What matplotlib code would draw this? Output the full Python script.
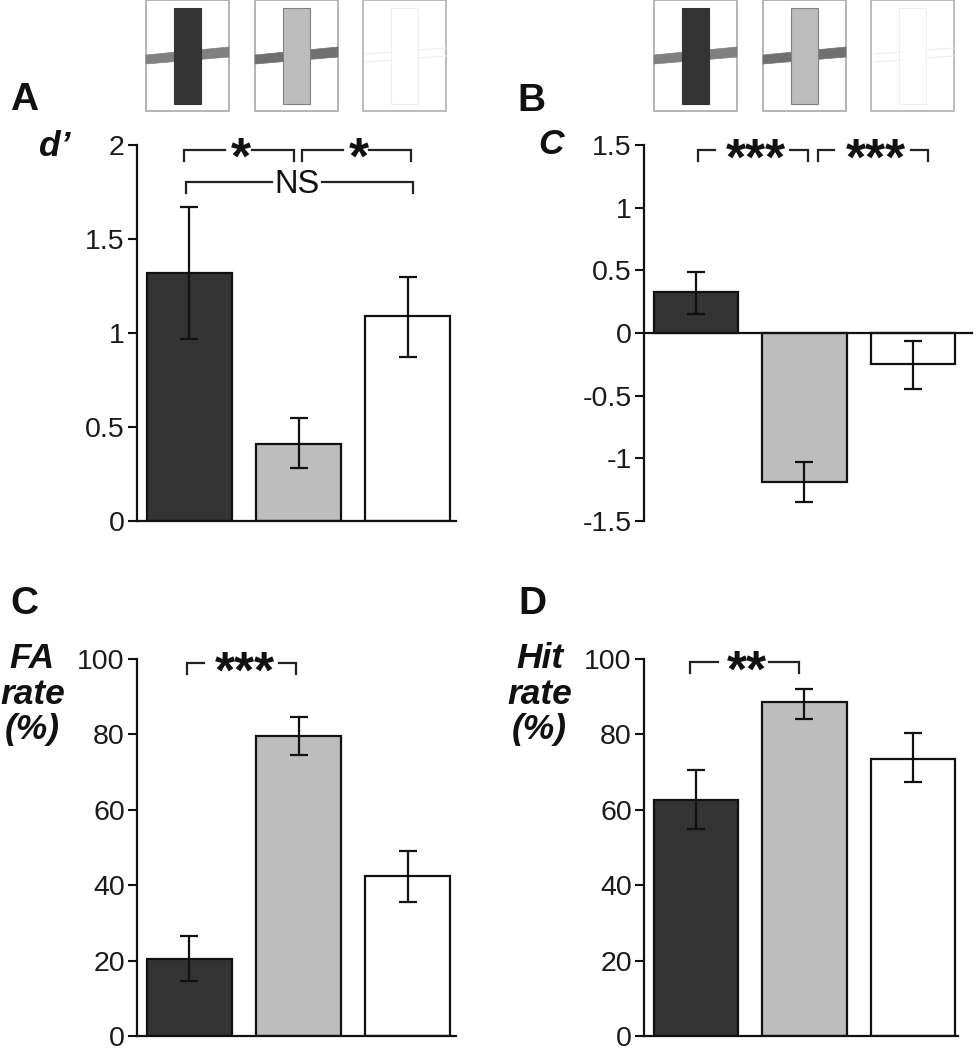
import matplotlib
matplotlib.use('Agg')
import matplotlib.pyplot as plt
from matplotlib.patches import Rectangle, Polygon

plt.rcParams['font.family'] = ['Liberation Sans', 'DejaVu Sans']

W = 979
H = 1050

bar_colors = ['#333333', '#bdbdbd', '#ffffff']

d_vals = [1.32, 0.41, 1.09]
d_low = [0.97, 0.28, 0.87]
d_high = [1.67, 0.55, 1.30]

c_vals = [0.33, -1.19, -0.25]
c_low = [0.15, -1.35, -0.45]
c_high = [0.49, -1.03, -0.06]

fa_vals = [20.5, 79.5, 42.5]
fa_low = [14.5, 74.5, 35.5]
fa_high = [26.5, 84.5, 49.0]

hit_vals = [62.5, 88.5, 73.5]
hit_low = [55.0, 84.0, 67.5]
hit_high = [70.5, 92.0, 80.5]

d_ticks = [0, 0.5, 1, 1.5, 2]
d_labels = ['0', '0.5', '1', '1.5', '2']
c_ticks = [-1.5, -1, -0.5, 0, 0.5, 1, 1.5]
c_labels = ['-1.5', '-1', '-0.5', '0', '0.5', '1', '1.5']
pct_ticks = [0, 20, 40, 60, 80, 100]
pct_labels = ['0', '20', '40', '60', '80', '100']

fig = plt.figure(figsize=(W / 100, H / 100), dpi=100)


def make_panel(left, right, top, bottom, first, spacing, vals, low, high, ticks, labels, ymin, ymax):
    ax = fig.add_axes([left / W, 1 - bottom / H, (right - left) / W, (bottom - top) / H])
    ax.patch.set_alpha(0)
    xs = [0, 1, 2]
    err = [[v - l for v, l in zip(vals, low)], [h - v for v, h in zip(vals, high)]]
    ax.bar(xs, vals, width=0.775, color=bar_colors, edgecolor='#111111', linewidth=1.6, zorder=2)
    ax.errorbar(xs, vals, yerr=err, fmt='none', ecolor='#111111', elinewidth=1.6,
                capsize=6.3, capthick=1.6, zorder=3)
    ax.set_xlim((left - first) / spacing, (right - first) / spacing)
    ax.set_ylim(ymin, ymax)
    ax.set_xticks([])
    ax.set_yticks(ticks)
    ax.set_yticklabels(labels)
    ax.tick_params(axis='y', length=6.3, width=1.5, labelsize=20.5, pad=2.5, color='#111111', labelcolor='#1a1a1a')
    ax.spines['top'].set_visible(False)
    ax.spines['right'].set_visible(False)
    ax.spines['left'].set_linewidth(1.6)
    ax.spines['bottom'].set_linewidth(1.6)
    ax.spines['left'].set_color('#111111')
    ax.spines['bottom'].set_color('#111111')
    if ymin < 0:
        ax.spines['bottom'].set_position(('data', 0))
    return ax


def bracket(ax, x0, x1, y, drop, gap0, gap1, text, size, text_dy, text_dx=0.0, weight='bold'):
    kw = dict(color='#222222', lw=1.6, clip_on=False, solid_joinstyle='miter', zorder=4)
    ax.plot([x0, x0, gap0], [y - drop, y, y], **kw)
    ax.plot([gap1, x1, x1], [y, y, y - drop], **kw)
    ax.text((gap0 + gap1) / 2 + text_dx, y + text_dy, text, fontsize=size, fontweight=weight,
            ha='center', va='center', color='#111111')


ax_a = make_panel(137, 456, 145, 521, 189.5, 109, d_vals, d_low, d_high, d_ticks, d_labels, 0, 2)
ax_b = make_panel(644, 972, 145, 521, 696, 108.5, c_vals, c_low, c_high, c_ticks, c_labels, -1.5, 1.5)
ax_c = make_panel(137, 456, 659, 1036, 189.5, 109, fa_vals, fa_low, fa_high, pct_ticks, pct_labels, 0, 100)
ax_d = make_panel(644, 958, 659, 1036, 696, 108.5, hit_vals, hit_low, hit_high, pct_ticks, pct_labels, 0, 100)

bracket(ax_a, -0.05, 0.96, 1.973, 0.058, 0.33, 0.57, '*', 37, -0.056, text_dx=0.02)
bracket(ax_a, 1.03, 2.03, 1.973, 0.058, 1.41, 1.65, '*', 37, -0.056, text_dx=0.02)
bracket(ax_a, -0.03, 2.05, 1.803, 0.058, 0.76, 1.22, 'NS', 23.5, -0.015, weight='normal')
bracket(ax_b, 0.02, 1.03, 1.46, 0.085, 0.175, 0.866, '***', 37, -0.091, text_dx=0.03)
bracket(ax_b, 1.124, 2.138, 1.46, 0.085, 1.276, 1.977, '***', 37, -0.091, text_dx=0.03)
bracket(ax_c, -0.02, 0.98, 98.9, 2.8, 0.13, 0.82, '***', 37, -3, text_dx=0.03)
bracket(ax_d, -0.055, 0.95, 99.2, 2.9, 0.2, 0.67, '**', 37, -3, text_dx=0.035)

# overlay in pixel coordinates for the stimulus boxes and the side labels
over = fig.add_axes([0, 0, 1, 1])
over.set_xlim(0, W)
over.set_ylim(H, 0)
over.axis('off')
over.patch.set_alpha(0)


def stimulus(x, fill, edge, band, frame, outline_only=False):
    over.add_patch(Rectangle((x, 0), 83, 111, fc='white', ec=frame, lw=1.2))
    if outline_only:
        over.plot([x + 3, x + 83], [54, 48], color=band, lw=0.8)
        over.plot([x + 3, x + 83], [62, 56], color=band, lw=0.8)
    else:
        over.add_patch(Polygon([(x, 55), (x + 83, 47), (x + 83, 57), (x, 64)], fc=band, ec=band, lw=0.5))
    over.add_patch(Rectangle((x + 28, 8), 27, 96, fc=fill, ec=edge, lw=0.8, zorder=3))


for x0 in [146, 654]:
    stimulus(x0, '#333333', '#333333', '#808080', '#a8a8a8')
    stimulus(x0 + 109, '#bdbdbd', '#808080', '#707070', '#a8a8a8')
    stimulus(x0 + 217, '#ffffff', '#efefef', '#eeeeee', '#b0b0b0', outline_only=True)

for letter, x, y in [('A', 10, 100), ('B', 517, 101), ('C', 10, 604), ('D', 518, 604)]:
    over.text(x, y, letter, fontsize=28, fontweight='bold', ha='left', va='center', color='#111111')

label_kw = dict(fontsize=25.5, fontweight='bold', fontstyle='italic', ha='center', va='center', color='#111111')
over.text(55, 147, "d\u2019", **label_kw)
over.text(551, 145, 'C', **label_kw)
over.text(32, 659, 'FA', **label_kw)
over.text(33, 694, 'rate', **label_kw)
over.text(32, 730, '(%)', **label_kw)
over.text(540, 659, 'Hit', **label_kw)
over.text(540, 694, 'rate', **label_kw)
over.text(539, 730, '(%)', **label_kw)

fig.savefig('out.png', dpi=100)
